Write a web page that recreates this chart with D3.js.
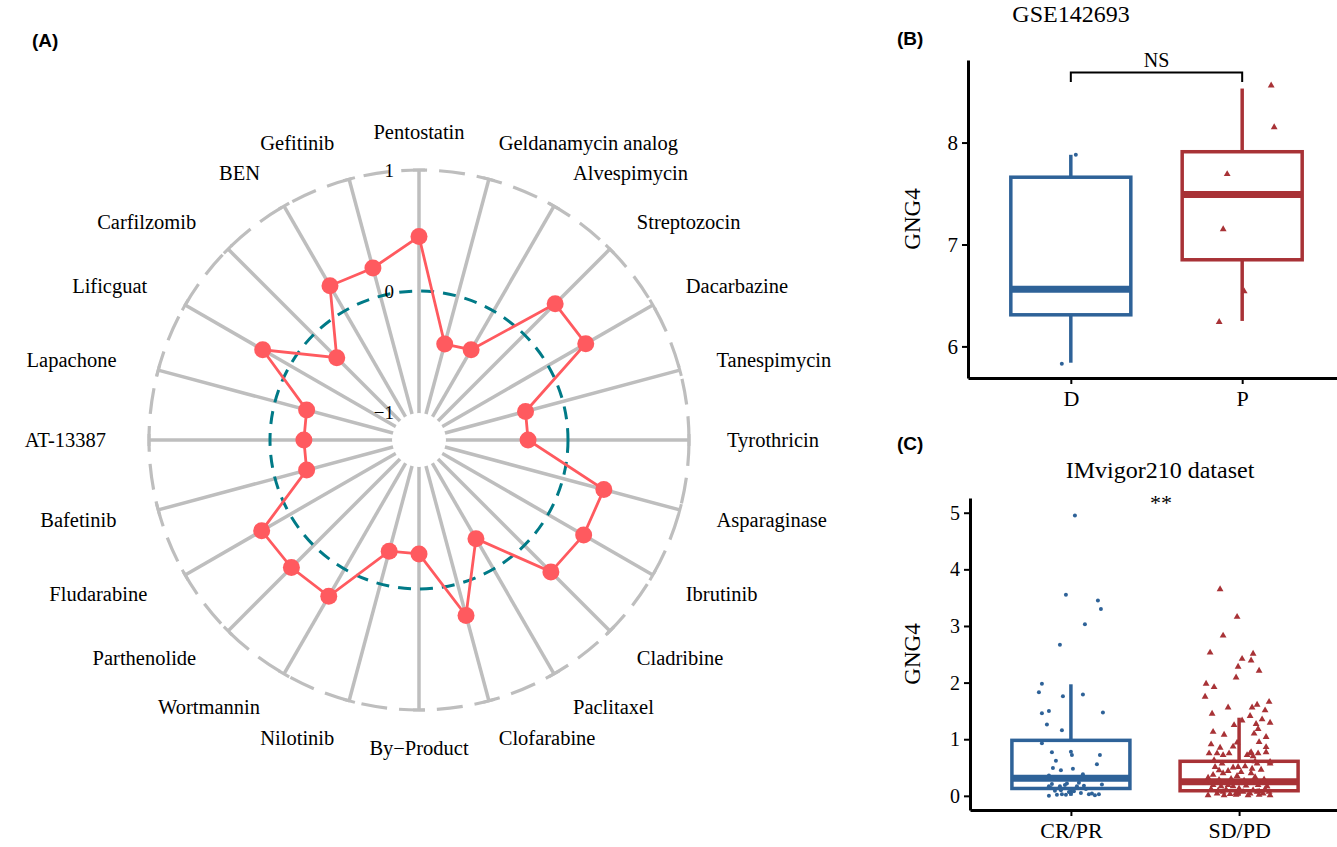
<!DOCTYPE html>
<html>
<head>
<meta charset="utf-8">
<title>Drug sensitivity and GNG4</title>
<script src="https://d3js.org/d3.v7.min.js"></script>
<style>
  body { margin: 0; background: #fff; }
  text { font-family: "Liberation Serif", "Times New Roman", serif; fill: #000; }
  .panel-tag { font-family: "Liberation Sans", Arial, sans-serif; font-weight: bold; font-size: 19px; }
</style>
</head>
<body>
<div id="chart"></div>
<script>
// ---- data: radar (A) ----
var drugs = ["Pentostatin", "Geldanamycin analog", "Alvespimycin", "Streptozocin", "Dacarbazine",
  "Tanespimycin", "Tyrothricin", "Asparaginase", "Ibrutinib", "Cladribine", "Paclitaxel",
  "Clofarabine", "By\u2212Product", "Nilotinib", "Wortmannin", "Parthenolide", "Fludarabine",
  "Bafetinib", "AT-13387", "Lapachone", "Lificguat", "Carfilzomib", "BEN", "Gefitinib"];
var drugScores = [0.45, -0.41, -0.37, 0.36, 0.36, -0.32, -0.33, 0.35, 0.34, 0.31, -0.29,
  0.27, -0.29, -0.28, 0.26, 0.26, 0.27, -0.27, -0.28, -0.27, 0.26, -0.27, 0.24, 0.24];
var radarTicks = [-1, 0, 1];
var radarTickLabels = ["\u22121", "0", "1"];

// ---- data: GSE142693 (B) ----
var groupsB = ["D", "P"];
var q1B = [6.31, 6.85], medB = [6.56, 7.49], q3B = [7.66, 7.91];
var loB = [5.84, 6.25], hiB = [7.88, 8.53];
var ptsD = [7.88, 5.83], jitD = [5, -9];
var ptsP = [8.56, 8.15, 7.69, 7.15, 6.54, 6.24], jitP = [29, 32, -15, -19, 2, -23];
var ticksB = [6, 7, 8];

// ---- data: IMvigor210 (C) ----
var groupsC = ["CR/PR", "SD/PD"];
var q1C = [0.13, 0.09], medC = [0.31, 0.25], q3C = [0.98, 0.61];
var loC = [0.0, 0.0], hiC = [1.97, 1.38];
var ptsCR = [4.95, 3.55, 3.45, 3.30, 3.03, 2.67, 1.98, 1.83, 1.76, 1.79, 1.46, 1.50, 1.47, 1.26,
  1.16, 0.93, 0.77, 0.78, 0.72, 0.72, 0.62, 0.56, 0.49, 0.45, 0.48, 0.36, 0.38, 0.17, 0.21, 0.17,
  0.19, 0.17, 0.18, 0.20, 0.09, 0.10, 0.08, 0.05, 0.03, 0.04, 0.03, 0.00, 0.02, 0.03, 0.04, 0.07,
  0.23, 0.22, 0.02, 0.12, 0.14, 0.01];
var jitCR = [4, -5, 27, 30, 14, -11, -29, -32, -8, 12, -29, -22, 32, -24, -9, -29, -19, 0, 1, 29,
  -15, 26, -18, -10, 2, -22, 12, -22, -19, -11, -6, 6, 13, 31, -16, -10, 3, 10, 18, 21, 28, -22,
  -14, -9, 0, -2, 8, -4, -5, 15, -20, 24];
var ptsSD = [3.65, 3.16, 2.83, 2.53, 2.51, 2.42, 2.39, 2.28, 2.21, 2.09, 1.98, 1.92, 1.75, 1.66,
  1.61, 1.56, 1.56, 1.51, 1.45, 1.41, 1.35, 1.33, 1.29, 1.27, 1.25, 1.18, 1.13, 1.10, 1.08, 1.04,
  0.95, 0.94, 0.91, 0.86, 0.85, 0.77, 0.77, 0.75, 0.75, 0.75, 0.75, 0.72, 0.72, 0.63, 0.61, 0.60,
  0.32, 0.37, 0.40, 0.44, 0.50, 0.51, 0.52, 0.40, 0.48, 0.57, 0.51, 0.57, 0.57,
  0.04, 0.07, 0.03, 0.05, 0.07, 0.04, 0.07, 0.04, 0.07, 0.01, 0.19, 0.17, 0.19, 0.17, 0.18, 0.19,
  0.17, 0.75, 0.70, 0.87, 0.28, 0.30, 0.27, 0.33, 0.29, 0.12, 0.11, 0.13, 0.10, 0.12, 0.01, 0.02,
  0.01, 0.02, 0.01, 0.45, 0.42, 0.46, 0.35, 0.23, 0.24, 0.09, 0.08];
var jitSD = [-19, -2, -16, -29, 14, 3, 12, -1, 20, -3, -33, -25, -34, 30, 18, -11, 13, 26, -27,
  11, 23, 3, 31, 17, -5, 19, -26, 15, -15, 27, 20, -2, -28, 27, -19, 12, 27, -30, -22, -10, 19,
  -16, 8, -25, 16, 31,
  -31, -26, -16, -11, -6, -1, 6, 12, 13, 18, -24, -17, 31,
  -22, -16, -9, -3, 4, 11, 18, 24, 30, -31, -26, -18, -11, -6, 7, 19,
  28, 11, 14, -6, -20, -8, 5, 16, 25, -28, -13, 0, 14, 26, -15, -3,
  9, 20, 31, -20, 2, 22, -2, -33, 12, -21, 20];
var ticksC = [0, 1, 2, 3, 4, 5];

var blue = "#2E6298", red = "#A83236";
var W = 1337, H = 847;

var svg = d3.select("#chart").append("svg")
  .attr("width", W).attr("height", H);

// ======== (A) radar ========
var cx = 419, cy = 440, R = 270;
var rad = d3.scaleLinear().domain([-1, 1]).range([28, R]);
var ang = d3.scaleLinear().domain([0, drugs.length]).range([0, 2 * Math.PI]);
var gA = svg.append("g").attr("transform", "translate(" + cx + "," + cy + ")");

function px(a, r) { return r * Math.sin(a); }
function py(a, r) { return -r * Math.cos(a); }

// spokes
gA.selectAll(".spoke").data(drugs).enter().append("line")
  .attr("x1", 0).attr("y1", 0)
  .attr("x2", function(d, i) { return px(ang(i), R); })
  .attr("y2", function(d, i) { return py(ang(i), R); })
  .attr("stroke", "#BEBEBE").attr("stroke-width", 3.5);

// little caps on spoke ends
gA.selectAll(".cap").data(drugs).enter().append("line")
  .attr("x1", function(d, i) { var a = ang(i); return px(a, R) - 6 * Math.cos(a); })
  .attr("y1", function(d, i) { var a = ang(i); return py(a, R) - 6 * Math.sin(a); })
  .attr("x2", function(d, i) { var a = ang(i); return px(a, R) + 6 * Math.cos(a); })
  .attr("y2", function(d, i) { var a = ang(i); return py(a, R) + 6 * Math.sin(a); })
  .attr("stroke", "#BEBEBE").attr("stroke-width", 3);

// outer dashed ring
gA.append("circle").attr("r", rad(1))
  .attr("fill", "none").attr("stroke", "#BEBEBE")
  .attr("stroke-width", 3.2).attr("stroke-dasharray", "26 12");

// mid ring (0)
gA.append("circle").attr("r", rad(0))
  .attr("fill", "none").attr("stroke", "#007A87")
  .attr("stroke-width", 3).attr("stroke-dasharray", "13 9");

// hole in the centre
gA.append("circle").attr("r", 27).attr("fill", "#fff");

// radial labels
gA.selectAll(".rlab").data(radarTicks).enter().append("text")
  .attr("x", -25)
  .attr("y", function(d) { return -rad(d); })
  .attr("text-anchor", "end")
  .attr("dominant-baseline", "central")
  .style("font-size", "19px")
  .text(function(d, i) { return radarTickLabels[i]; });

// drug labels (left-hand ones sit a touch further out)
gA.selectAll(".dlab").data(drugs).enter().append("text")
  .attr("x", function(d, i) {
    var s = Math.sin(ang(i));
    return px(ang(i), 308) + (s < -0.01 ? -5 : 0);
  })
  .attr("y", function(d, i) { return py(ang(i), 308); })
  .attr("text-anchor", function(d, i) {
    var s = Math.sin(ang(i));
    return Math.abs(s) < 0.01 ? "middle" : (s > 0 ? "start" : "end");
  })
  .attr("dominant-baseline", "central")
  .style("font-size", "20.5px")
  .text(function(d) { return d; });

// score polygon
var radarLine = d3.lineRadial()
  .angle(function(d, i) { return ang(i); })
  .radius(function(d) { return rad(d); })
  .curve(d3.curveLinearClosed);
gA.append("path").datum(drugScores)
  .attr("d", radarLine)
  .attr("fill", "none").attr("stroke", "#FF5A5F").attr("stroke-width", 2.8);

gA.selectAll(".dot").data(drugScores).enter().append("circle")
  .attr("cx", function(d, i) { return px(ang(i), rad(d)); })
  .attr("cy", function(d, i) { return py(ang(i), rad(d)); })
  .attr("r", 8.5).attr("fill", "#FF5A5F");

svg.append("text").attr("class", "panel-tag").attr("x", 32).attr("y", 47).text("(A)");

// ======== box plot helper ========
function boxPanel(opt) {
  var g = svg.append("g");
  var x = d3.scalePoint().domain(opt.groups).range(opt.xRange).padding(opt.pad);
  var y = d3.scaleLinear().domain(opt.yDomain).range(opt.yRange);

  var ax = g.append("g").attr("transform", "translate(0," + opt.yRange[0] + ")")
    .call(d3.axisBottom(x).tickSize(6).tickPadding(6).tickSizeOuter(0));
  var ay = g.append("g").attr("transform", "translate(" + opt.xRange[0] + ",0)")
    .call(d3.axisLeft(y).tickValues(opt.ticks).tickFormat(d3.format("d"))
      .tickSize(6).tickPadding(4).tickSizeOuter(0));
  [ax, ay].forEach(function(a) {
    a.attr("font-family", null);
    a.select(".domain").attr("stroke", "#000").attr("stroke-width", 3);
    a.selectAll(".tick line").attr("stroke", "#000").attr("stroke-width", 2);
    a.selectAll(".tick text").style("font-family", "'Liberation Serif', serif").attr("fill", "#000");
  });
  ax.selectAll(".tick text").style("font-size", "22px");
  ay.selectAll(".tick text").style("font-size", opt.tickFont);

  g.append("text")
    .attr("transform", "translate(" + opt.yLabX + "," + ((opt.yRange[0] + opt.yRange[1]) / 2) + ") rotate(-90)")
    .attr("text-anchor", "middle").attr("dominant-baseline", "central")
    .style("font-size", "23px").text("GNG4");

  g.append("text").attr("x", opt.titleX).attr("y", opt.titleY)
    .attr("text-anchor", "middle").attr("dominant-baseline", "central")
    .style("font-size", "24px").text(opt.title);

  var hw = opt.boxW / 2;
  opt.groups.forEach(function(grp, i) {
    var col = opt.colors[i], xc = x(grp);
    // whiskers
    g.append("line").attr("x1", xc).attr("x2", xc)
      .attr("y1", y(opt.hi[i])).attr("y2", y(opt.q3[i]))
      .attr("stroke", col).attr("stroke-width", 3.5);
    g.append("line").attr("x1", xc).attr("x2", xc)
      .attr("y1", y(opt.q1[i])).attr("y2", y(opt.lo[i]))
      .attr("stroke", col).attr("stroke-width", 3.5);
    g.append("rect")
      .attr("x", xc - hw).attr("width", opt.boxW)
      .attr("y", y(opt.q3[i])).attr("height", y(opt.q1[i]) - y(opt.q3[i]))
      .attr("fill", "#fff").attr("stroke", col).attr("stroke-width", 3.5);
    g.append("line").attr("x1", xc - hw).attr("x2", xc + hw)
      .attr("y1", y(opt.med[i])).attr("y2", y(opt.med[i]))
      .attr("stroke", col).attr("stroke-width", 7);

    var vals = opt.pts[i], jit = opt.jit[i];
    if (i === 0) {
      g.selectAll(".p" + i).data(vals).enter().append("circle")
        .attr("cx", function(d, k) { return xc + jit[k]; })
        .attr("cy", function(d) { return y(d); })
        .attr("r", 2).attr("fill", col);
    } else {
      g.selectAll(".p" + i).data(vals).enter().append("path")
        .attr("d", d3.symbol(d3.symbolTriangle, 20))
        .attr("transform", function(d, k) { return "translate(" + (xc + jit[k]) + "," + y(d) + ")"; })
        .attr("fill", col);
    }
  });
  return { x: x, y: y, g: g };
}

// ======== (B) ========
var pB = boxPanel({
  groups: groupsB, xRange: [968, 1345], pad: 0.6,
  yDomain: [5.69, 8.81], yRange: [378, 60], ticks: ticksB, tickFont: "21px",
  q1: q1B, med: medB, q3: q3B, lo: loB, hi: hiB,
  pts: [ptsD, ptsP], jit: [jitD, jitP], colors: [blue, red], boxW: 120,
  yLabX: 912, title: "GSE142693", titleX: 1071, titleY: 14
});
// NS bracket
var bx0 = pB.x("D"), bx1 = pB.x("P");
pB.g.append("path")
  .attr("d", "M" + bx0 + ",82V72.5H" + bx1 + "V82")
  .attr("fill", "none").attr("stroke", "#000").attr("stroke-width", 2);
pB.g.append("text").attr("x", (bx0 + bx1) / 2).attr("y", 60)
  .attr("text-anchor", "middle").attr("dominant-baseline", "central")
  .style("font-size", "20px").text("NS");
svg.append("text").attr("class", "panel-tag").attr("x", 897).attr("y", 45).text("(B)");

// ======== (C) ========
var pC = boxPanel({
  groups: groupsC, xRange: [970, 1340], pad: 0.6,
  yDomain: [-0.25, 5.26], yRange: [810, 498], ticks: ticksC, tickFont: "20px",
  q1: q1C, med: medC, q3: q3C, lo: loC, hi: hiC,
  pts: [ptsCR, ptsSD], jit: [jitCR, jitSD], colors: [blue, red], boxW: 118,
  yLabX: 912, title: "IMvigor210 dataset", titleX: 1160, titleY: 470
});
pC.g.append("text").attr("x", 1161).attr("y", 502)
  .attr("text-anchor", "middle").attr("dominant-baseline", "central")
  .style("font-size", "22px").text("**");
svg.append("text").attr("class", "panel-tag").attr("x", 897).attr("y", 450).text("(C)");
</script>
</body>
</html>
